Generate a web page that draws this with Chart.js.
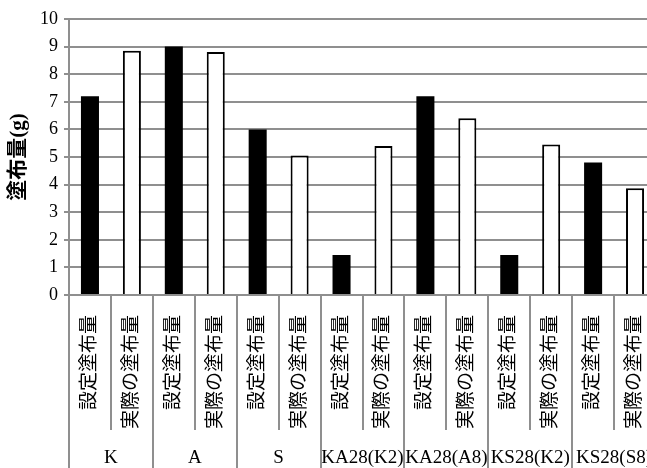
<!DOCTYPE html>
<html>
<head>
<meta charset="utf-8">
<script src="https://cdn.jsdelivr.net/npm/chart.js@4/dist/chart.umd.min.js"></script>
<style>
  html, body { margin: 0; padding: 0; background: #fff; overflow: hidden; }
  #wrap { width: 656px; height: 468px; }
</style>
</head>
<body>
<div id="wrap"><canvas id="c" width="656" height="468"></canvas></div>
<script>
// Sample groups and the two kinds of amount shown for each
const groups = ['K', 'A', 'S', 'KA28(K2)', 'KA28(A8)', 'KS28(K2)', 'KS28(S8)'];
const kinds = ['設定塗布量', '実際の塗布量'];

// Coating amounts in grams
const setAmount    = [7.2, 9.0, 6.0, 1.45, 7.2, 1.45, 4.8];
const actualAmount = [8.85, 8.8, 5.05, 5.4, 6.4, 5.45, 3.87];

// Value axis
const yMin = 0;
const yMax = 10;
const yStep = 1;
const yTitle = '塗布量(g)';

// One category per (group, kind); each dataset fills only its own slots
const categories = [];
const setData = [];
const actualData = [];
groups.forEach((g, i) => {
  categories.push(kinds[0]);
  setData.push(setAmount[i]);
  actualData.push(null);
  categories.push(kinds[1]);
  setData.push(null);
  actualData.push(actualAmount[i]);
});

const GRID = '#8f8f8f';
const SERIF = "'Liberation Serif', 'Noto Sans CJK JP', serif";

// Separators of the two-level category axis
const dividers = {
  id: 'dividers',
  afterDraw(chart) {
    const x = chart.scales.x;
    const x2 = chart.scales.x2;
    const ctx = chart.ctx;
    const n = categories.length;
    ctx.save();
    ctx.strokeStyle = GRID;
    ctx.lineWidth = 2;
    for (let i = 0; i <= n; i++) {
      let px;
      if (i === 0) px = x.left;
      else if (i === n) px = x.right;
      else px = (x.getPixelForValue(i - 1) + x.getPixelForValue(i)) / 2;
      px = Math.round(px);
      const yEnd = (i % 2 === 0) ? x2.bottom : x.bottom;
      ctx.beginPath();
      ctx.moveTo(px, chart.chartArea.bottom);
      ctx.lineTo(px, yEnd);
      ctx.stroke();
    }
    ctx.restore();
  }
};

// Horizontal axes span the full plot width with no extra side padding
function fitX(height) {
  return function (s) {
    s.height = height;
    s.paddingLeft = 0;
    s.paddingRight = 0;
  };
}

new Chart(document.getElementById('c'), {
  type: 'bar',
  data: {
    labels: categories,
    datasets: [
      {
        label: kinds[0],
        data: setData,
        backgroundColor: '#000000',
        borderColor: '#000000',
        borderWidth: 0
      },
      {
        label: kinds[1],
        data: actualData,
        backgroundColor: '#ffffff',
        borderColor: '#000000',
        borderWidth: 2
      }
    ]
  },
  options: {
    responsive: false,
    animation: false,
    skipNull: true,
    barPercentage: 0.43,
    categoryPercentage: 1,
    layout: { padding: { top: 19, right: 0, left: 0, bottom: 0 } },
    plugins: {
      legend: { display: false },
      tooltip: { enabled: false }
    },
    scales: {
      x: {
        position: 'bottom',
        offset: true,
        grid: { display: false },
        border: { display: true, color: GRID, width: 2 },
        ticks: {
          autoSkip: false,
          minRotation: 90,
          maxRotation: 90,
          padding: 12,
          color: '#000',
          font: { family: SERIF, size: 19 }
        },
        afterFit: fitX(135)
      },
      x2: {
        type: 'category',
        position: 'bottom',
        labels: groups,
        offset: true,
        grid: { display: false, drawTicks: false },
        border: { display: false },
        ticks: {
          autoSkip: false,
          maxRotation: 0,
          minRotation: 0,
          padding: 17,
          color: '#000',
          font: { family: SERIF, size: 19 }
        },
        afterFit: fitX(38)
      },
      y: {
        min: yMin,
        max: yMax,
        ticks: {
          stepSize: yStep,
          padding: 6,
          color: '#000',
          font: { family: SERIF, size: 18 }
        },
        grid: { color: GRID, lineWidth: 2, tickLength: 5 },
        border: { display: true, color: GRID, width: 2 },
        title: {
          display: true,
          text: yTitle,
          color: '#000',
          padding: { top: 6, bottom: 0 },
          font: { family: SERIF, size: 21, weight: 'bold' }
        },
        afterFit(s) { s.width = 69; }
      }
    }
  },
  plugins: [dividers]
});
</script>
</body>
</html>
